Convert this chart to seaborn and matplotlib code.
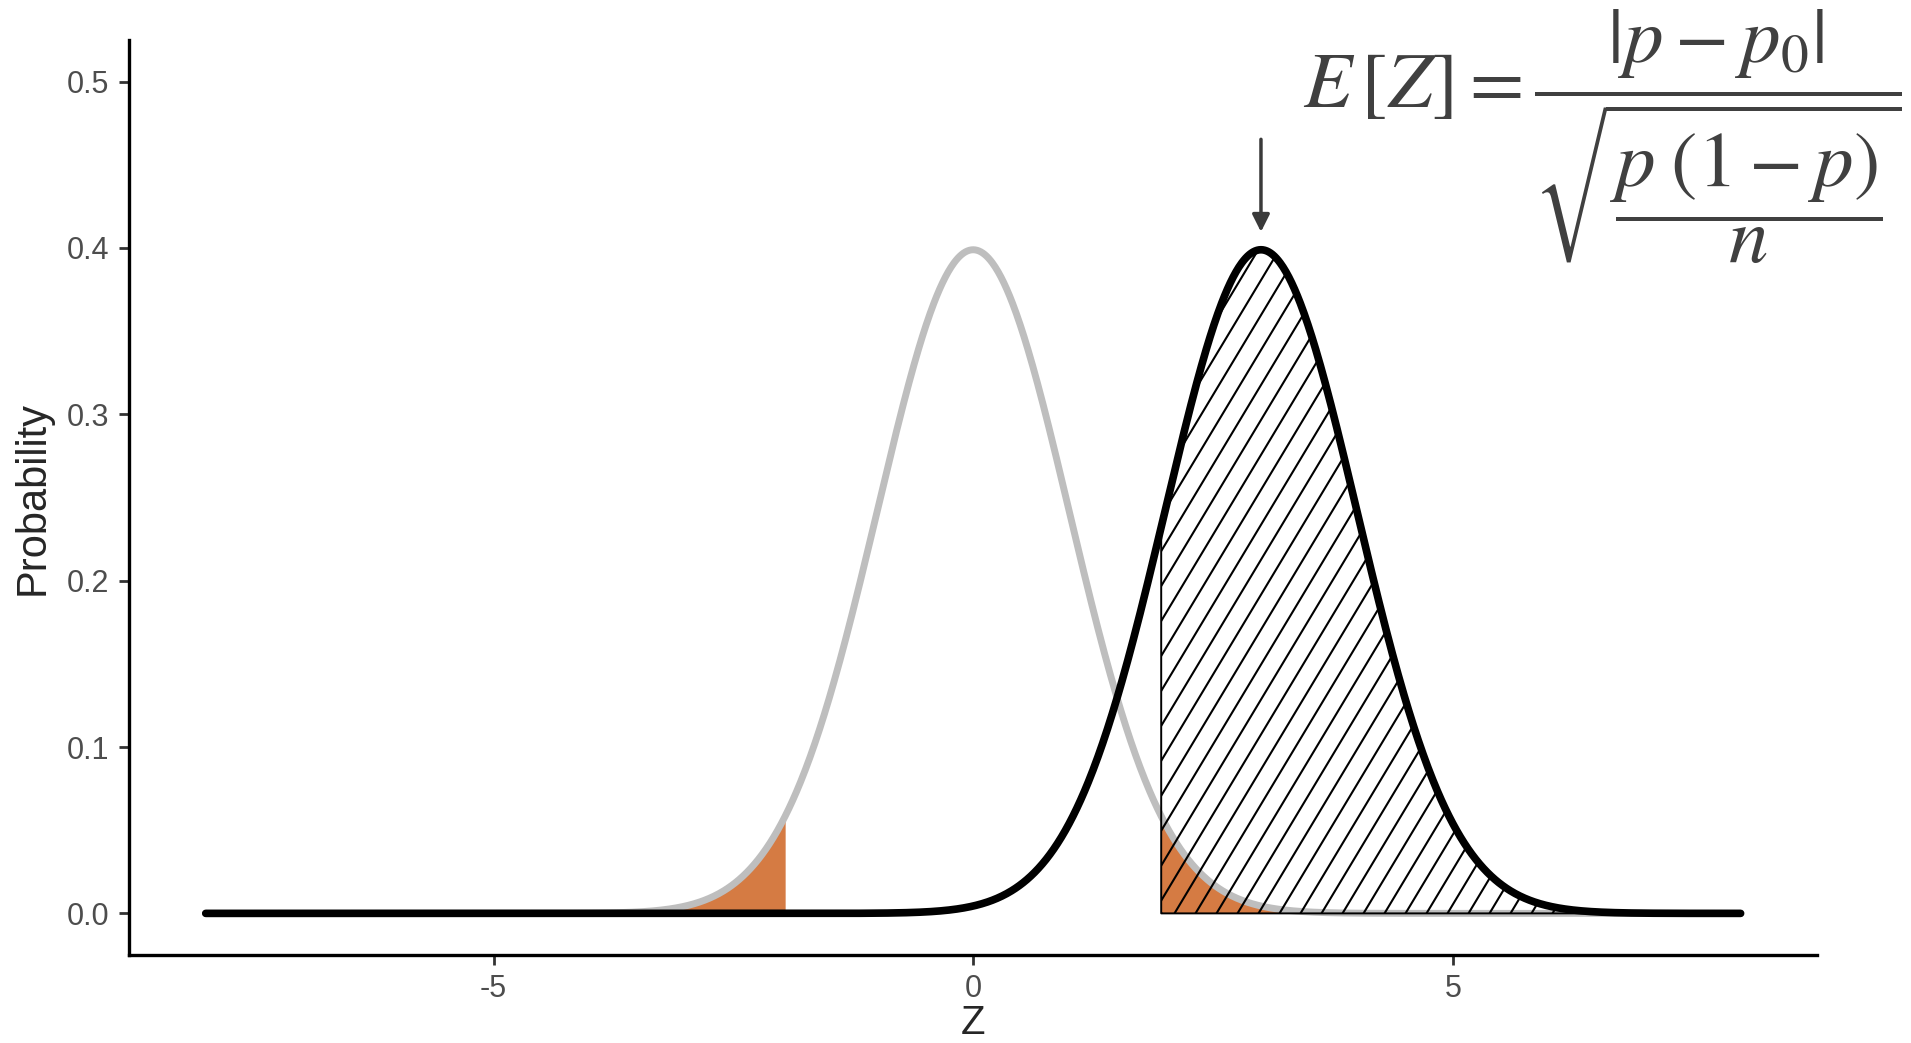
import numpy as np
import pandas as pd
import matplotlib.pyplot as plt
from matplotlib.collections import LineCollection
import seaborn as sns

# distribution parameters
null_mean = 0.0
alt_mean = 3.0
sd = 1.0
z_crit = 1.96
z_min, z_max = -8.0, 8.0
y_ticks = [0.0, 0.1, 0.2, 0.3, 0.4, 0.5]
x_ticks = [-5, 0, 5]
x_tick_labels = ["-5", "0", "5"]


def dens(z, mu):
    return np.exp(-0.5 * ((z - mu) / sd) ** 2) / (sd * np.sqrt(2 * np.pi))


z = np.linspace(z_min, z_max, 1601)
df = pd.DataFrame({"z": z, "null": dens(z, null_mean), "alt": dens(z, alt_mean)})

sns.set_style("ticks")
plt.rcParams["font.family"] = ["Liberation Sans", "DejaVu Sans"]
plt.rcParams["mathtext.fontset"] = "stix"

fig = plt.figure(figsize=(19.11, 10.43), dpi=100)
ax = fig.add_axes([0.0675, 0.0844, 0.8835, 0.8772])
ax.set_xlim(z_min - 0.8, z_max + 0.8)
ax.set_ylim(-0.025, 0.525)

orange = "#D57B43"
left = df[df.z <= -z_crit]
right = df[df.z >= z_crit]
ax.fill_between(left.z, 0, left["null"], color=orange, lw=0, zorder=1)
ax.fill_between(right.z, 0, right["null"], color=orange, lw=0, zorder=1)

sns.lineplot(data=df, x="z", y="null", color="#BEBEBE", lw=5, ax=ax, zorder=2)

# hatched power region under the alternative curve
poly = ax.fill_between(right.z, 0, right["alt"], facecolor="none",
                       edgecolor="black", lw=1.4, zorder=3)
fig.canvas.draw()
(x0p, y0p) = ax.transData.transform((0, 0))
(x1p, y1p) = ax.transData.transform((1, 1))
px_x, px_y = x1p - x0p, y1p - y0p
slope = np.tan(np.radians(59)) * px_x / px_y
step = 21.0 / px_x
segs = []
for s in np.arange(z_crit - 0.5 / slope - 1, z_max + step, step):
    segs.append([(s, 0), (s + 0.5 / slope, 0.5)])
lc = LineCollection(segs, colors="black", linewidths=1.5, zorder=3)
ax.add_collection(lc)
lc.set_clip_path(poly.get_paths()[0], ax.transData)

sns.lineplot(data=df, x="z", y="alt", color="black", lw=5.5, ax=ax, zorder=4,
             solid_capstyle="round")

ax.annotate("", xy=(alt_mean, 0.408), xytext=(alt_mean, 0.467),
            arrowprops=dict(arrowstyle="-|>", color="#3A3A3A", lw=2.5,
                            mutation_scale=26))

ax.set_xticks(x_ticks)
ax.set_xticklabels(x_tick_labels)
ax.set_yticks(y_ticks)
ax.set_yticklabels([f"{v:.1f}" for v in y_ticks])
ax.tick_params(axis="both", labelsize=22, labelcolor="#4D4D4D", color="#333333",
               length=7, width=2, pad=7)
ax.set_xlabel("Z", fontsize=29, labelpad=0)
ax.set_ylabel("Probability", fontsize=30, labelpad=10)
for sp in ["left", "bottom"]:
    ax.spines[sp].set_linewidth(2.4)
    ax.spines[sp].set_color("black")
sns.despine(ax=ax)

fig.text(0.995, 0.993,
         r"$E\,[Z] = \dfrac{|p - p_0|}{\sqrt{\dfrac{p\;(1 - p)}{n}}}$",
         ha="right", va="top", fontsize=57, color="#404040")

fig.savefig("out.png", dpi=100)
